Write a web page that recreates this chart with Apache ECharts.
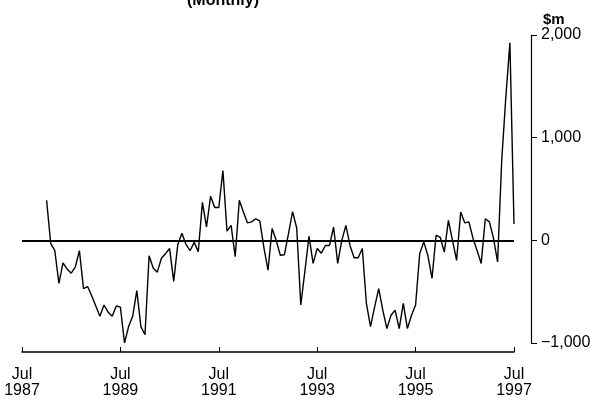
<!DOCTYPE html>
<html>
<head>
<meta charset="utf-8">
<script src="https://cdn.jsdelivr.net/npm/echarts@6/dist/echarts.min.js"></script>
<style>html,body{margin:0;padding:0;background:#fff}#c{width:602px;height:403px}</style>
</head>
<body>
<div id="c"></div>
<script>
// Months Jul 1987 .. Jul 1997
var monthNames = ['Jan','Feb','Mar','Apr','May','Jun','Jul','Aug','Sep','Oct','Nov','Dec'];
var categories = [];
for (var y = 1987; y <= 1997; y++) {
  for (var mo = 0; mo < 12; mo++) {
    if (y === 1987 && mo < 6) continue;
    if (y === 1997 && mo > 6) continue;
    categories.push(monthNames[mo] + ' ' + y);
  }
}
// Monthly values ($m), Jan 1988 .. Jul 1997
var values1988 = [390, -30, -100, -420, -220, -280, -320, -260, -100, -470, -450, -540];
var values1989 = [-640, -740, -630, -700, -740, -640, -650, -1000, -840, -740, -490, -840];
var values1990 = [-920, -150, -270, -310, -175, -130, -80, -400, -40, 70, -40, -100];
var values1991 = [-20, -110, 370, 130, 430, 320, 320, 680, 90, 145, -160, 390];
var values1992 = [275, 170, 180, 210, 190, -70, -290, 115, 0, -145, -140, 65];
var values1993 = [280, 120, -630, -300, 40, -225, -80, -125, -50, -50, 130, -225];
var values1994 = [0, 145, -50, -170, -170, -80, -615, -840, -650, -470, -680, -860];
var values1995 = [-730, -680, -860, -615, -860, -730, -630, -130, -15, -150, -370, 50];
var values1996 = [30, -115, 195, 0, -195, 275, 170, 180, 20, -100, -225, 210];
var values1997 = [180, 20, -210, 775, 1390, 1925, 160];
var leading = [null, null, null, null, null, null]; // Jul-Dec 1987
var series = leading.concat(values1988, values1989, values1990, values1991, values1992,
  values1993, values1994, values1995, values1996, values1997);
var yTicks = [-1000, 0, 1000, 2000];
var xLabelRe = /^Jul (1987|1989|1991|1993|1995|1997)$/;

var chart = echarts.init(document.getElementById('c'), null, {renderer: 'canvas'});
var font = 'Liberation Sans, Arial, Helvetica, sans-serif';
chart.setOption({
  animation: false,
  backgroundColor: '#fff',
  title: {
    text: '(Monthly)',
    left: 218,
    top: -12,
    textAlign: 'center',
    textStyle: {fontFamily: font, fontSize: 16, fontWeight: 'bold', color: '#000'}
  },
  grid: {left: 22, right: 88, top: 35, bottom: 60},
  xAxis: {
    type: 'category',
    data: categories,
    boundaryGap: false,
    offset: 9,
    axisLine: {onZero: false, lineStyle: {color: '#000', width: 1.5}},
    axisTick: {
      inside: true, length: 5,
      interval: function (i, v) { return xLabelRe.test(v); },
      lineStyle: {color: '#000'}
    },
    axisLabel: {
      interval: function (i, v) { return xLabelRe.test(v); },
      formatter: function (v) { return v.replace(' ', '\n'); },
      fontFamily: font, fontSize: 16, color: '#000', lineHeight: 16, margin: 15
    },
    splitLine: {show: false}
  },
  yAxis: {
    type: 'value',
    position: 'right',
    offset: 17,
    min: yTicks[0],
    max: yTicks[yTicks.length - 1],
    interval: 1000,
    name: '$m',
    nameLocation: 'end',
    nameGap: 6,
    nameTextStyle: {fontFamily: font, fontSize: 15, fontWeight: 'bold', color: '#000', align: 'left', padding: [0, 0, 0, 12]},
    axisLine: {show: true, onZero: false, lineStyle: {color: '#000', width: 1.2}},
    axisTick: {show: true, inside: false, length: 6, lineStyle: {color: '#000'}},
    axisLabel: {
      fontFamily: font, fontSize: 16, color: '#000', margin: 10,
      formatter: function (v) { return (v < 0 ? '\u2212' : '') + Math.abs(v).toLocaleString('en-US'); }
    },
    splitLine: {show: false}
  },
  series: [{
    type: 'line',
    data: series,
    showSymbol: false,
    symbol: 'none',
    connectNulls: false,
    lineStyle: {color: '#000', width: 1.4},
    markLine: {
      silent: true,
      symbol: ['none', 'none'],
      label: {show: false},
      lineStyle: {color: '#000', type: 'solid', width: 1.8},
      data: [{yAxis: 0}]
    }
  }]
});
</script>
</body>
</html>
